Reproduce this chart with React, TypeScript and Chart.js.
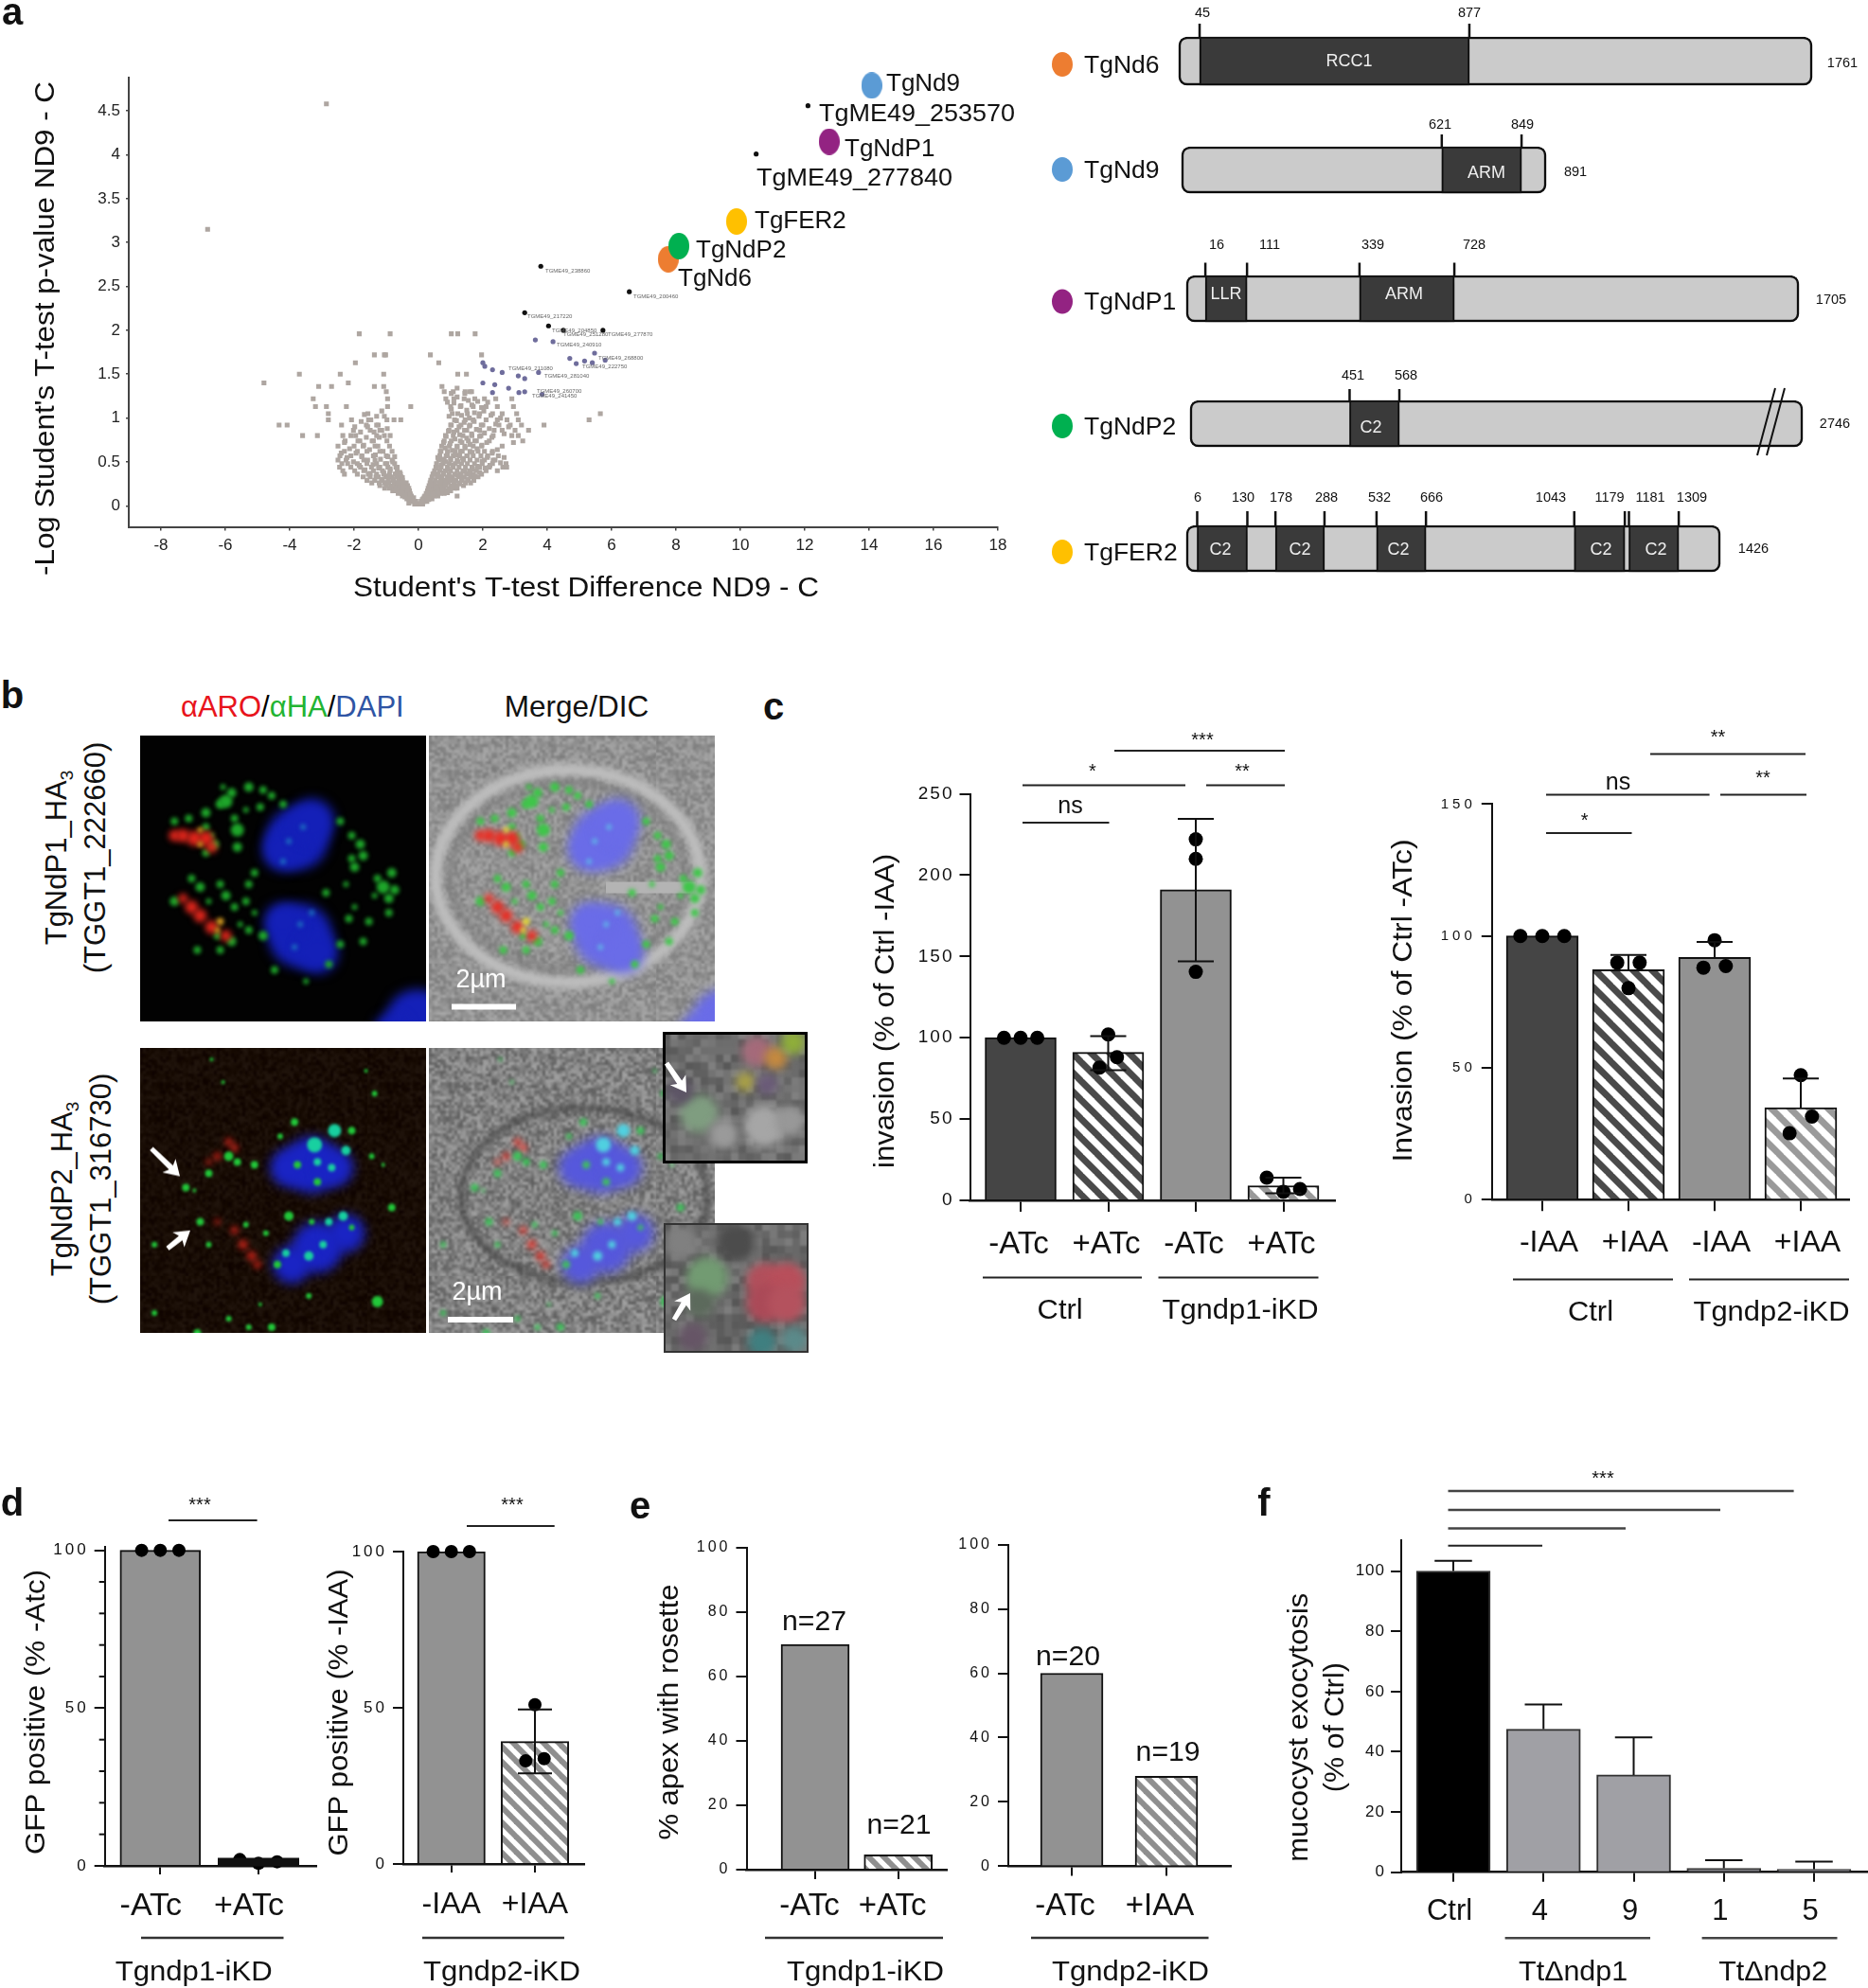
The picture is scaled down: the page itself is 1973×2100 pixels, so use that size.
import React, { useEffect, useRef } from 'react';
import { Chart, registerables } from 'chart.js';
Chart.register(...registerables);

const FONT = '"Liberation Sans", Arial, Helvetica, sans-serif';

/* ---------- panel a: volcano ---------- */
const greyRows: [number, number[]][] = [
  [0.02, [-0.12, -0.05, 0, 0.06, 0.13]],
  [0.05, [-0.24, -0.16, -0.08, 0.08, 0.17, 0.26]],
  [0.08, [-0.36, -0.27, -0.2, 0.15, 0.24, 0.33, 0.42]],
  [0.11, [-0.5, -0.41, -0.3, -0.22, 0.2, 0.29, 0.38, 0.48, 0.6, 1.2]],
  [0.14, [-0.63, -0.52, -0.43, -0.33, -0.26, 0.24, 0.33, 0.44, 0.55, 0.68, 0.8]],
  [0.17, [-0.8, -0.66, -0.55, -0.46, -0.34, -0.28, 0.28, 0.37, 0.5, 0.6, 0.72, 0.86, 1.0]],
  [0.2, [-1.05, -0.9, -0.76, -0.62, -0.5, -0.37, -0.3, 0.3, 0.41, 0.53, 0.66, 0.79, 0.94, 1.12, 1.2]],
  [0.23, [-1.2, -1.0, -0.85, -0.7, -0.58, -0.44, -0.34, 0.33, 0.46, 0.59, 0.72, 0.85, 1.02, 1.18, 1.4]],
  [0.26, [-1.45, -1.22, -1.05, -0.92, -0.75, -0.6, -0.47, -0.38, 0.36, 0.5, 0.64, 0.78, 0.93, 1.1, 1.27, 1.46, 1.62]],
  [0.29, [-1.6, -1.36, -1.12, -0.94, -0.8, -0.62, -0.5, 0.38, 0.52, 0.69, 0.84, 1.0, 1.16, 1.34, 1.55, 1.72]],
  [0.33, [-1.72, -1.5, -1.25, -1.02, -0.82, -0.66, -0.54, 0.42, 0.58, 0.73, 0.9, 1.06, 1.24, 1.42, 1.63, 1.85]],
  [0.36, [-2.3, -1.9, -1.56, -1.3, -1.08, -0.9, -0.7, -0.56, 0.45, 0.6, 0.78, 0.95, 1.12, 1.31, 1.5, 1.7, 1.96]],
  [0.4, [-2.35, -1.98, -1.7, -1.4, -1.12, -0.88, -0.66, 0.5, 0.66, 0.84, 1.0, 1.2, 1.38, 1.6, 1.8, 2.1, 2.45]],
  [0.44, [-2.45, -2.1, -1.8, -1.46, -1.2, -0.95, -0.7, 0.54, 0.7, 0.9, 1.08, 1.26, 1.46, 1.66, 1.9, 2.2, 2.62]],
  [0.48, [-2.38, -2.2, -1.9, -1.6, -1.3, -0.98, -0.74, 0.56, 0.76, 0.96, 1.14, 1.34, 1.52, 1.74, 1.98, 2.3, 2.72]],
  [0.52, [-2.5, -2.25, -1.7, -1.35, -0.82, 0.62, 0.8, 1.0, 1.2, 1.4, 1.6, 1.82, 2.05, 2.32]],
  [0.57, [-2.44, -2.1, -1.76, -1.4, -1.0, 0.66, 0.86, 1.08, 1.28, 1.5, 1.7, 1.94, 2.15, 2.48]],
  [0.62, [-2.3, -1.9, -1.6, -1.2, 0.7, 0.9, 1.14, 1.36, 1.6, 1.85, 2.05, 2.3]],
  [0.68, [-2.5, -2.0, -1.72, -1.35, 0.72, 0.96, 1.2, 1.44, 1.7, 1.96, 2.6]],
  [0.74, [-2.28, -1.82, -1.4, 0.8, 1.02, 1.3, 1.55, 1.8, 2.2, 3.24]],
  [0.8, [-2.35, -1.95, -1.3, -0.88, -3.6, -3.14, 0.84, 1.08, 1.38, 1.66, 1.94, 2.32, 2.9, 3.1]],
  [0.86, [-2.02, -1.5, -1.2, 0.95, 1.2, 1.5, 1.9, 2.35, 2.6, 3.0, 3.42]],
  [0.92, [-4.33, -4.08, -2.39, -1.62, -1.25, 1.0, 1.32, 1.6, 2.0, 2.5, 2.85, 3.2, 3.9]],
  [0.98, [-2.8, -2.08, -1.55, -0.98, -0.76, -0.55, 1.12, 1.45, 1.7, 2.1, 2.45, 2.75, 3.1, 5.3]],
  [1.05, [-2.8, -1.57, 1.05, 1.22, 1.52, 1.9, 2.3, 2.6, 3.05, 5.65]],
  [1.13, [-3.2, -2.86, -2.24, -0.96, -0.24, 1.0, 1.3, 1.7, 2.1, 2.45, 2.95]],
  [1.22, [-3.27, -0.96, 0.85, 1.1, 1.42, 1.75, 2.05, 2.4, 2.9]],
  [1.3, [-1.0, 0.8, 1.08, 1.45, 1.6]],
  [1.36, [-3.1, -2.7, -1.08, -1.37, 0.73]],
  [1.4, [-4.8, -2.18]],
  [1.5, [-3.7, -2.43, -1.08, 1.22, 1.49]],
  [1.63, [-1.96, 0.63]],
  [1.72, [-1.37, -1.06, -1.02, 0.37, 1.96]],
  [1.96, [-1.84, -0.88, 1.02, 1.22, 1.76]],
  [3.15, [-6.55]],
  [4.58, [-2.86]],
];
const greyExtra = [
  [0.31, 0.07], [0.44, 0.13], [0.52, 0.21], [0.61, 0.16], [0.38, 0.24], [0.67, 0.27], [0.74, 0.19], [0.83, 0.24], [0.9, 0.15], [0.97, 0.31], [1.06, 0.22], [1.13, 0.28], [1.21, 0.35], [1.28, 0.25], [1.36, 0.31], [1.45, 0.39], [1.52, 0.3], [1.6, 0.36], [1.68, 0.42], [1.75, 0.34], [1.83, 0.45], [1.9, 0.38], [1.98, 0.51], [2.07, 0.43], [2.14, 0.55], [2.22, 0.46], [2.29, 0.6], [2.38, 0.52], [2.45, 0.64], [2.55, 0.49], [2.66, 0.55], [2.74, 0.44],
  [0.48, 0.37], [0.56, 0.43], [0.63, 0.34], [0.7, 0.46], [0.78, 0.38], [0.85, 0.5], [0.92, 0.42], [1.0, 0.54], [1.07, 0.46], [1.15, 0.58], [1.22, 0.5], [1.3, 0.62], [1.37, 0.54], [1.45, 0.66], [1.52, 0.57], [1.6, 0.7], [1.67, 0.61], [1.75, 0.74], [1.82, 0.65], [1.9, 0.79], [1.97, 0.69], [2.05, 0.83], [2.12, 0.72], [2.2, 0.88], [2.28, 0.78], [2.4, 0.93],
  [0.6, 0.55], [0.68, 0.62], [0.75, 0.53], [0.83, 0.66], [0.9, 0.58], [0.98, 0.71], [1.05, 0.63], [1.13, 0.76], [1.2, 0.67], [1.28, 0.81], [1.35, 0.72], [1.43, 0.86], [1.5, 0.77], [1.58, 0.91], [1.65, 0.82], [1.73, 0.96], [1.8, 0.87], [1.88, 1.02], [1.95, 0.92], [2.03, 1.08],
  [0.78, 0.72], [0.86, 0.79], [0.93, 0.85], [1.02, 0.92], [1.1, 0.84], [1.18, 0.97], [1.26, 0.9], [1.34, 1.03], [1.42, 0.95], [1.5, 1.09], [1.58, 1.0], [1.66, 1.15], [1.74, 1.06], [1.84, 1.19], [1.96, 1.12], [2.15, 1.18], [2.25, 1.03], [2.55, 1.0], [2.66, 0.82], [2.8, 0.9], [2.95, 0.72],
  [0.95, 1.02], [1.02, 1.1], [1.1, 1.17], [1.2, 1.24], [1.32, 1.14], [1.44, 1.28], [1.55, 1.2], [1.65, 1.3], [1.2, 1.34], [1.02, 1.28], [0.9, 1.18],
  [0.1, 0.03], [0.18, 0.1], [0.26, 0.14], [0.12, 0.07], [-0.15, 0.09], [-0.3, 0.03], [-0.18, 0.06], [-0.26, 0.13], [-0.35, 0.18], [-0.42, 0.1], [-0.48, 0.22], [-0.56, 0.15], [-0.64, 0.26], [-0.7, 0.18], [-0.78, 0.3], [-0.85, 0.22], [-0.93, 0.34], [-1.0, 0.26], [-1.08, 0.38], [-1.15, 0.3], [-1.24, 0.43], [-1.32, 0.33], [-1.41, 0.47], [-1.5, 0.37], [-1.58, 0.52], [-1.66, 0.41], [-1.76, 0.56], [-1.84, 0.46], [-1.94, 0.6], [-2.02, 0.5], [-2.14, 0.65], [-2.22, 0.55], [-2.3, 0.72], [-2.4, 0.6],
  [-0.5, 0.32], [-0.58, 0.38], [-0.66, 0.44], [-0.72, 0.36], [-0.8, 0.5], [-0.88, 0.42], [-0.95, 0.56], [-1.03, 0.48], [-1.1, 0.62], [-1.18, 0.53], [-1.26, 0.68], [-1.34, 0.58], [-1.44, 0.74], [-1.52, 0.64], [-1.62, 0.78], [-1.7, 0.69], [-1.8, 0.84], [-1.88, 0.74], [-1.98, 0.9], [-2.1, 0.8],
  [-0.74, 0.56], [-0.82, 0.62], [-0.9, 0.68], [-0.98, 0.74], [-1.06, 0.8], [-1.14, 0.86], [-1.22, 0.78], [-1.3, 0.92], [-1.38, 0.84], [-1.48, 0.98], [-1.58, 0.9], [-1.68, 1.04], [-1.78, 0.96], [-1.06, 1.02], [-1.14, 1.08], [-1.3, 1.02], [-0.97, 0.88],
];
const bluePoints = [[3.63, 1.89], [4.18, 1.87], [4.7, 1.68], [5.16, 1.65], [5.47, 1.74], [2, 1.63], [2.06, 1.59], [2.6, 1.52], [2.3, 1.55], [3.73, 1.52], [3.1, 1.48], [3.3, 1.45], [2, 1.4], [2.37, 1.38], [2.3, 1.29], [3.12, 1.29], [3.84, 1.27], [2.8, 1.34], [3.3, 1.3], [5.4, 1.63], [5.8, 1.66], [4.9, 1.62]];
const blackPoints = [[12.1, 4.56], [10.49, 4.01], [3.8, 2.73], [6.55, 2.44], [3.3, 2.2], [4.04, 2.05], [5.73, 2.0], [4.5, 2.0]];
const highlightNames = ['TgNd6', 'TgNd9', 'TgNdP1', 'TgFER2', 'TgNdP2'];
const highlightX = [7.76, 14.08, 12.76, 9.88, 8.09];
const highlightY = [2.81, 4.79, 4.15, 3.24, 2.96];
const proteinColors = ['#ed7d31', '#5b9bd5', '#932382', '#ffc000', '#00b050'];
const volcanoXTicks = [-8, -6, -4, -2, 0, 2, 4, 6, 8, 10, 12, 14, 16, 18];
const volcanoYTicks = [0, 0.5, 1, 1.5, 2, 2.5, 3, 3.5, 4, 4.5];
const tinyGeneLabels = ['TGME49_238860', 'TGME49_200460', 'TGME49_217220', 'TGME49_204850', 'TGME49_251280', 'TGME49_277870', 'TGME49_240910', 'TGME49_268800', 'TGME49_222750', 'TGME49_211080', 'TGME49_281040', 'TGME49_260700', 'TGME49_241450'];

/* ---------- panel a: domain maps ---------- */
const proteinLengths = [1761, 891, 1705, 2746, 1426];
const nd6Domains = [[58, 808]];
const nd9Domains = [[636, 831]];
const ndp1Domains = [[53, 169], [482, 746]];
const ndp2Domains = [[715, 938]];
const fer2Domains = [[29, 163], [238, 369], [508, 640], [1036, 1171], [1182, 1315]];

/* ---------- panel c ---------- */
const c1Cats = ['-ATc', '+ATc', '-ATc', '+ATc'];
const c1Values = [100, 91, 191, 9];
const c1ErrLow = [null, 80, 147, 4.3];
const c1ErrHigh = [null, 101, 234.6, 13.9];
const c1DotX = [-0.19, 0, 0.19, 1, 1.1, 0.9, 2, 2, 2, 2.81, 3.19, 3];
const c1DotY = [100, 100, 100, 102, 88, 81.6, 222, 210, 140.5, 14, 7, 5.3];
const c2Cats = ['-IAA', '+IAA', '-IAA', '+IAA'];
const c2Values = [100, 87.2, 91.9, 34.9];
const c2ErrLow = [null, 87.2, 91.9, 34.9];
const c2ErrHigh = [null, 92.8, 97.7, 46];
const c2DotX = [-0.255, 0, 0.255, 0.87, 1.13, 1, 2, 1.87, 2.13, 3, 3.13, 2.87];
const c2DotY = [100, 100, 100, 89.9, 89.9, 80.2, 98.4, 88, 88.6, 47.2, 31.5, 25.2];

/* ---------- panel d ---------- */
const d1Cats = ['-ATc', '+ATc'];
const d1Values = [100, 1.2];
const d1ErrLow = [null, 0.6];
const d1ErrHigh = [null, 1.8];
const d1DotX = [-0.19, 0, 0.19, 0.81, 1, 1.19];
const d1DotY = [100, 100, 100, 2, 0.8, 1.3];
const d2Cats = ['-IAA', '+IAA'];
const d2Values = [100, 39.2];
const d2ErrLow = [null, 29];
const d2ErrHigh = [null, 49.5];
const d2DotX = [-0.217, 0, 0.217, 1, 0.89, 1.11];
const d2DotY = [100, 100, 100, 51, 33, 33.7];

/* ---------- panel e ---------- */
const e1Cats = ['-ATc', '+ATc'];
const e1Values = [70, 4.6];
const e2Cats = ['-ATc', '+IAA'];
const e2Values = [60, 28];

/* ---------- panel f ---------- */
const fCats = ['Ctrl', '4', '9', '1', '5'];
const fValues = [100, 47.5, 32.3, 1.3, 1.0];
const fErrLow = [100, 47.5, 32.3, 1.3, 1.0];
const fErrHigh = [103.4, 55.7, 44.8, 4, 3.5];

/* ---------- panel b: fluorescent spots, percent of panel, radius ---------- */
const topBlue = [[55, 36, 33], [50, 40, 22], [60, 30, 24], [56, 70, 34], [50, 65, 20], [62, 76, 22], [97, 100, 34], [88, 104, 20]];
const topTeal = [[52, 37, 3], [57, 32, 3], [50, 44, 3], [56, 66, 3], [60, 62, 3], [54, 74, 3]];
const topRed = [[12, 35, 6], [15, 35, 7], [19, 36, 8], [23, 36, 8], [25, 39, 6], [15, 57, 5], [18, 60, 7], [21, 63, 7], [25, 67, 7], [30, 70, 6]];
const topGreen = [[32, 20, 5], [28, 24, 5], [30, 23, 7], [38, 18, 5], [43, 19, 4], [23, 27, 5], [17, 29, 4], [33, 29, 4], [34, 33, 7], [12, 30, 4], [23, 32, 4], [26, 38, 5], [23, 41, 4], [34, 39, 5], [42, 25, 4], [50, 24, 4], [46, 21, 4], [70, 30, 4], [74, 35, 4], [77, 38, 5], [78, 42, 5], [74, 43, 4], [75, 46, 5], [83, 50, 4], [85, 53, 7], [88, 48, 5], [89, 54, 5], [87, 57, 5], [87, 62, 4], [80, 65, 4], [73, 64, 4], [78, 72, 4], [70, 73, 4], [65, 55, 4], [40, 48, 4], [38, 52, 4], [28, 52, 4], [18, 50, 4], [21, 53, 5], [33, 60, 4], [30, 56, 5], [37, 58, 4], [12, 58, 5], [27, 70, 4], [32, 72, 5], [38, 68, 4], [43, 70, 5], [28, 75, 4], [20, 75, 4], [47, 82, 4], [58, 86, 3], [66, 80, 4], [29, 18, 3], [37, 26, 3], [25, 35, 3], [72, 52, 3], [82, 56, 3], [75, 60, 3], [35, 66, 3], [24, 58, 3], [40, 62, 3]];
const topYellow = [[21, 33, 3], [21, 38, 3], [28, 65, 4], [27, 68, 3]];
const lowBlue = [[60, 41, 30], [52, 42, 20], [68, 42, 20], [62, 70, 27], [53, 76, 20], [72, 65, 20]];
const lowTeal = [[61, 34, 8], [68, 29, 7], [72, 36, 5], [67, 42, 4], [62, 40, 4], [59, 73, 5], [64, 69, 4], [51, 72, 4], [66, 61, 4], [71, 59, 5]];
const lowRed = [[33, 35, 4], [27, 38, 4], [24, 40, 3], [31, 33, 4], [27, 61, 3], [33, 64, 4], [36, 69, 5], [39, 73, 5], [41, 76, 4]];
const lowGreen = [[54, 26, 4], [74, 29, 4], [49, 31, 3], [62, 47, 4], [55, 41, 4], [31, 38, 5], [34, 40, 4], [40, 41, 4], [24, 44, 4], [16, 49, 4], [19, 50, 2], [21, 61, 4], [24, 69, 3], [5, 69, 3], [52, 59, 5], [60, 61, 3], [74, 63, 3], [88, 56, 4], [81, 38, 3], [85, 41, 2], [82, 16, 3], [79, 8, 2], [48, 76, 4], [37, 62, 3], [44, 65, 3], [59, 87, 3], [83, 89, 6], [31, 95, 3], [46, 98, 4], [5, 93, 3], [25, 4, 2], [29, 12, 2], [42, 90, 2], [20, 100, 4], [38, 98, 3]];
const inset1Spots = [[65, 15, 16, '#a56a7a'], [78, 20, 12, '#c58a40'], [90, 8, 13, '#8fae3a'], [57, 38, 10, '#a9a045'], [72, 40, 11, '#6a5a78'], [25, 62, 20, '#7f9d80'], [42, 78, 16, '#9a9a9a'], [70, 72, 22, '#a6a6a6'], [12, 45, 14, '#5d5566'], [88, 68, 16, '#989898']];
const inset2Spots = [[70, 45, 20, '#b2505c'], [85, 45, 20, '#b84f5b'], [70, 62, 20, '#ab4a58'], [85, 62, 20, '#b4525e'], [30, 42, 22, '#729b72'], [25, 62, 15, '#5c6a5c'], [20, 88, 15, '#665566'], [68, 92, 15, '#3f7f80'], [50, 15, 20, '#4c4c4c'], [90, 90, 14, '#5b8a8a'], [12, 15, 18, '#808080']];

/* ---------- drawing helpers ---------- */
type Note = any;
const T = (text: string, x: number, y: number, size: number, o: any = {}): Note => ({ k: 't', text, x, y, size, ...o });
const L = (x1: number, y1: number, x2: number, y2: number, lw = 2, color = '#222'): Note => ({ k: 'l', x1, y1, x2, y2, lw, color });
const E = (x: number, y: number, rx: number, ry: number, color: string): Note => ({ k: 'e', x, y, rx, ry, color });
const A = (x1: number, y1: number, x2: number, y2: number): Note => ({ k: 'a', x1, y1, x2, y2 });
const R = (x: number, y: number, w: number, h: number, lw: number, color: string): Note => ({ k: 'r', x, y, w, h, lw, color });
const ring = (x: number, y: number, rx: number, ry: number, lw: number, color: string): Note => ({ k: 'ring', x, y, rx, ry, lw, color });

function drawNotes(ctx: CanvasRenderingContext2D, notes: Note[], box: any) {
  ctx.save();
  ctx.translate(-box.l, -box.t);
  for (const n of notes) {
    ctx.save();
    if (n.k === 't') {
      ctx.translate(n.x + (n.rot ? 1.5 : 0), n.y + (n.rot ? 0 : 1.5));
      if (n.rot) ctx.rotate((n.rot * Math.PI) / 180);
      ctx.font = `${n.bold ? 'bold ' : ''}${n.size}px ${FONT}`;
      ctx.textBaseline = 'middle';
      ctx.textAlign = n.align || 'center';
      ctx.fillStyle = n.color || '#111';
      if (n.w) ctx.scale(n.w / ctx.measureText(n.text).width, 1);
      ctx.fillText(n.text, 0, 0);
    } else if (n.k === 'l') {
      ctx.strokeStyle = n.color;
      ctx.lineWidth = n.lw;
      ctx.beginPath();
      ctx.moveTo(n.x1, n.y1);
      ctx.lineTo(n.x2, n.y2);
      ctx.stroke();
    } else if (n.k === 'e') {
      ctx.fillStyle = n.color;
      ctx.beginPath();
      ctx.ellipse(n.x, n.y, n.rx, n.ry, 0, 0, Math.PI * 2);
      ctx.fill();
    } else if (n.k === 'ring') {
      ctx.strokeStyle = n.color;
      ctx.lineWidth = n.lw;
      ctx.filter = 'blur(3px)';
      ctx.beginPath();
      ctx.ellipse(n.x, n.y, n.rx, n.ry, 0, 0, Math.PI * 2);
      ctx.stroke();
    } else if (n.k === 'r') {
      ctx.strokeStyle = n.color;
      ctx.lineWidth = n.lw;
      ctx.strokeRect(n.x, n.y, n.w, n.h);
    } else if (n.k === 'a') {
      const ang = Math.atan2(n.y2 - n.y1, n.x2 - n.x1);
      ctx.translate(n.x2, n.y2);
      ctx.rotate(ang);
      const len = Math.hypot(n.x2 - n.x1, n.y2 - n.y1);
      ctx.fillStyle = '#fff';
      ctx.beginPath();
      ctx.moveTo(0, 0);
      ctx.lineTo(-16, -10);
      ctx.lineTo(-13, -3);
      ctx.lineTo(-len, -2.5);
      ctx.lineTo(-len, 2.5);
      ctx.lineTo(-13, 3);
      ctx.lineTo(-16, 10);
      ctx.closePath();
      ctx.fill();
    }
    ctx.restore();
  }
  ctx.restore();
}

function hatch(color: string, p: number, lw: number) {
  const c = document.createElement('canvas');
  c.width = p;
  c.height = p;
  const x = c.getContext('2d')!;
  x.fillStyle = '#fff';
  x.fillRect(0, 0, p, p);
  x.strokeStyle = color;
  x.lineWidth = lw;
  for (const o of [-p, 0, p]) {
    x.beginPath();
    x.moveTo(o - 2, -2);
    x.lineTo(o + p + 2, p + 2);
    x.stroke();
  }
  return x.createPattern(c, 'repeat')!;
}

function noise(base: number[], amp: number, cell: number) {
  const size = 240;
  const c = document.createElement('canvas');
  c.width = size;
  c.height = size;
  const x = c.getContext('2d')!;
  for (let i = 0; i < size / cell; i++) {
    for (let j = 0; j < size / cell; j++) {
      const h = Math.sin(i * 12.9898 + j * 78.233) * 43758.5453;
      const v = (h - Math.floor(h) - 0.5) * amp;
      x.fillStyle = `rgb(${base[0] + v},${base[1] + v},${base[2] + v})`;
      x.fillRect(i * cell, j * cell, cell, cell);
    }
  }
  const d = document.createElement('canvas');
  d.width = size;
  d.height = size;
  const y = d.getContext('2d')!;
  y.fillStyle = `rgb(${base[0]},${base[1]},${base[2]})`;
  y.fillRect(0, 0, size, size);
  y.filter = 'blur(1px)';
  y.drawImage(c, 0, 0);
  return { canvas: d };
}

function ellipseStyle(color: string, rx: number, ry: number) {
  const c = document.createElement('canvas');
  c.width = rx * 2;
  c.height = ry * 2;
  const x = c.getContext('2d')!;
  x.fillStyle = color;
  x.beginPath();
  x.ellipse(rx, ry, rx, ry, 0, 0, Math.PI * 2);
  x.fill();
  return c;
}

const baseOptions = (box: any): any => ({
  responsive: false,
  animation: false,
  devicePixelRatio: 1,
  events: [],
  plugins: { legend: { display: false }, tooltip: { enabled: false }, title: { display: false } },
});

function fixedAxes(box: any, area: any) {
  return {
    layout: { autoPadding: false, padding: { left: 0, bottom: 0, top: area.t - box.t, right: box.r - area.r } },
    xFit: (s: any) => { s.height = box.b - area.b; },
    yFit: (s: any) => { s.width = area.l - box.l; },
  };
}

/* ---------- bar panels ---------- */
function barConfig(s: any): any {
  const { box, area } = s;
  const fit = fixedAxes(box, area);
  const fills = s.fills.map((f: any) => (Array.isArray(f) ? hatch(f[0], f[1], f[2]) : f));
  const datasets: any[] = [{
    type: 'bar',
    data: s.values.map((v: number, i: number) => ({ x: i, y: v })),
    backgroundColor: fills,
    borderColor: s.borders,
    borderWidth: s.borderW ?? 2,
    barThickness: s.barW,
    order: 2,
  }];
  if (s.dotX) {
    datasets.push({
      type: 'scatter',
      data: s.dotX.map((x: number, i: number) => ({ x, y: s.dotY[i] })),
      backgroundColor: '#000',
      borderWidth: 0,
      pointRadius: s.dotR ?? 7.5,
      order: 1,
      clip: false,
    });
  }
  const opts = baseOptions(box);
  opts.layout = fit.layout;
  opts.scales = {
    x: {
      type: 'linear',
      min: (area.l - s.t0) / s.dx,
      max: (area.r - s.t0) / s.dx,
      offset: false,
      afterBuildTicks: (a: any) => { a.ticks = s.cats.map((_: string, i: number) => ({ value: i })); },
      afterFit: fit.xFit,
      grid: { offset: false, drawOnChartArea: false, color: '#111', lineWidth: 2, tickLength: s.xTick ?? 11 },
      border: { color: '#111', width: 2.5 },
      ticks: {
        autoSkip: false, maxRotation: 0, minRotation: 0, color: '#111',
        font: { family: FONT, size: s.xFont ?? 32 }, padding: s.xPad ?? 14, labelOffset: s.labelOffset ?? 0,
        callback: (v: number) => s.cats[v],
      },
    },
    y: {
      type: 'linear',
      min: 0,
      max: s.yMax,
      afterBuildTicks: (a: any) => { a.ticks = s.yTicks.map((v: number) => ({ value: v })); },
      afterFit: fit.yFit,
      grid: { drawOnChartArea: false, color: '#111', lineWidth: 2, tickLength: s.yTick ?? 11 },
      border: { color: '#111', width: 2 },
      ticks: {
        autoSkip: false, color: '#111', padding: s.yPad ?? 6,
        font: { family: FONT, size: s.yFont ?? 17 },
        callback: (v: number) => String(v),
      },
    },
  };
  const plugin = {
    id: 'notes',
    beforeDraw(chart: any) {
      const y = chart.scales.y;
      const ctx = chart.ctx;
      if (!y._spaced) {
        const orig = y.drawLabels;
        y.drawLabels = function (a: any) {
          ctx.letterSpacing = `${s.yLetter ?? 2}px`;
          orig.call(this, a);
          ctx.letterSpacing = '0px';
        };
        y._spaced = true;
      }
    },
    afterDatasetsDraw(chart: any) {
      const { ctx, scales: { x, y } } = chart;
      ctx.save();
      ctx.strokeStyle = '#111';
      ctx.lineWidth = s.errW ?? 2;
      (s.errHigh || []).forEach((h: number | null, i: number) => {
        if (h == null) return;
        const px = x.getPixelForValue(i);
        const ph = y.getPixelForValue(h);
        const pl = y.getPixelForValue(s.errLow[i]);
        const c = (s.capW ?? 38) / 2;
        ctx.beginPath();
        ctx.moveTo(px, pl);
        ctx.lineTo(px, ph);
        ctx.moveTo(px - c, ph);
        ctx.lineTo(px + c, ph);
        if (s.errLow[i] !== s.values[i]) {
          ctx.moveTo(px - c, pl);
          ctx.lineTo(px + c, pl);
        }
        ctx.stroke();
      });
      ctx.lineWidth = 2;
      (s.minor || []).forEach((v: number) => {
        const py = y.getPixelForValue(v);
        ctx.beginPath();
        ctx.moveTo(area.l, py);
        ctx.lineTo(area.l - (s.minorLen ?? 6), py);
        ctx.stroke();
      });
      ctx.restore();
    },
    afterDraw(chart: any) { drawNotes(chart.ctx, s.notes, box); },
  };
  return { type: 'bar', data: { datasets }, options: opts, plugins: [plugin] };
}

/* ---------- volcano ---------- */
function volcanoConfig(): any {
  const box = { l: 0, t: 0, r: 1090, b: 660 };
  const area = { l: 136, r: 1054, t: 82, b: 556.5 };
  const fit = fixedAxes(box, area);
  const grey = [...greyRows.flatMap(([y, xs]) => xs.map((x) => ({ x, y }))), ...greyExtra.map(([x, y]) => ({ x, y }))];
  const styles = proteinColors.map((c) => ellipseStyle(c, 11, 14));
  const datasets: any[] = [
    { data: grey, pointStyle: 'rect', pointRadius: 3.6, backgroundColor: '#aea6a1', borderWidth: 0, order: 5 },
    { data: bluePoints.map(([x, y]) => ({ x, y })), pointRadius: 2.6, backgroundColor: '#6f6d9c', borderWidth: 0, order: 4 },
    { data: blackPoints.map(([x, y]) => ({ x, y })), pointRadius: 2.6, backgroundColor: '#111', borderWidth: 0, order: 3 },
    { data: highlightNames.map((_, i) => ({ x: highlightX[i], y: highlightY[i] })), pointStyle: styles, pointRadius: 11, order: 1, clip: false },
  ];
  const tinyPos = [[576, 285], [669, 312], [557, 333], [583, 348], [595, 352], [642, 352], [588, 363], [632, 377], [615, 386], [537, 388], [575, 396], [567, 412], [562, 417]];
  const notes: Note[] = [
    T('TgNd9', 936, 87, 26, { align: 'left' }),
    T('TgME49_253570', 865, 119, 26.5, { align: 'left', w: 207 }),
    T('TgNdP1', 892, 156, 26, { align: 'left' }),
    T('TgME49_277840', 799, 187, 26.5, { align: 'left', w: 207 }),
    T('TgFER2', 797, 232, 26, { align: 'left' }),
    T('TgNdP2', 735, 263, 26, { align: 'left' }),
    T('TgNd6', 716, 293, 26, { align: 'left' }),
    T("Student's T-test Difference ND9 - C", 619, 620, 29.5, { w: 492 }),
    T("-Log Student's T-test p-value ND9 - C", 47, 347, 29.5, { rot: -90, w: 522 }),
    ...tinyGeneLabels.map((t, i) => T(t, tinyPos[i][0], tinyPos[i][1], 6, { align: 'left', color: '#666' })),
  ];
  const opts = baseOptions(box);
  opts.layout = fit.layout;
  opts.scales = {
    x: {
      type: 'linear', min: -9, max: 18,
      afterBuildTicks: (a: any) => { a.ticks = volcanoXTicks.map((v) => ({ value: v })); },
      afterFit: fit.xFit,
      grid: { drawOnChartArea: false, color: '#444', lineWidth: 1.5, tickLength: 4 },
      border: { color: '#444', width: 2 },
      ticks: { autoSkip: false, maxRotation: 0, color: '#222', font: { family: FONT, size: 17 }, padding: 6, callback: (v: number) => String(v) },
    },
    y: {
      type: 'linear', min: -0.24, max: 4.88,
      afterBuildTicks: (a: any) => { a.ticks = volcanoYTicks.map((v) => ({ value: v })); },
      afterFit: fit.yFit,
      grid: { drawOnChartArea: false, color: '#444', lineWidth: 1.5, tickLength: 3 },
      border: { color: '#444', width: 2 },
      ticks: { autoSkip: false, color: '#222', font: { family: FONT, size: 17 }, padding: 6, callback: (v: number) => String(v) },
    },
  };
  const plugin = { id: 'notes', afterDraw(chart: any) { drawNotes(chart.ctx, notes, box); } };
  return { type: 'scatter', data: { datasets }, options: opts, plugins: [plugin] };
}

/* ---------- domain maps ---------- */
function proteinConfig(p: any): any {
  const box = { l: 1100, t: p.area.t - 48, r: 1973, b: p.area.b + 22 };
  const { area } = p;
  const gray: any = {
    data: [[0, p.length]], backgroundColor: '#cbcbcb', borderColor: '#111', borderWidth: 2.5, borderRadius: 9,
    borderSkipped: false, grouped: false, barPercentage: 1, categoryPercentage: 1, order: 2, clip: false,
  };
  const doms = p.domains.map((d: number[]) => ({
    data: [d], backgroundColor: '#3a3a3a', borderColor: '#111', borderWidth: 2, borderSkipped: false,
    grouped: false, barPercentage: 1, categoryPercentage: 1, order: 1, clip: false,
  }));
  const opts = baseOptions(box);
  opts.indexAxis = 'y';
  opts.layout = { autoPadding: false, padding: { left: area.l - box.l, right: box.r - area.r, top: area.t - box.t, bottom: box.b - area.b } };
  opts.scales = {
    x: { type: 'linear', display: false, min: 0, max: p.length },
    y: { type: 'category', display: false },
  };
  const plugin = {
    id: 'notes',
    beforeDatasetDraw(chart: any) {
      const c = chart.ctx;
      c.save();
      c.shadowColor = 'rgba(0,0,0,0.4)';
      c.shadowBlur = 7;
      c.shadowOffsetY = 5;
    },
    afterDatasetDraw(chart: any) { chart.ctx.restore(); },
    afterDraw(chart: any) {
      const c = chart.ctx;
      const x = chart.scales.x;
      c.save();
      c.strokeStyle = '#111';
      c.lineWidth = 2.5;
      p.domains.forEach((d: number[]) => d.forEach((v) => {
        const px = x.getPixelForValue(v);
        c.beginPath();
        c.moveTo(px, area.t - box.t + 1);
        c.lineTo(px, p.tickTop - box.t);
        c.stroke();
      }));
      c.restore();
      drawNotes(c, p.notes, box);
    },
  };
  return {
    type: 'bar',
    data: { labels: [p.name], datasets: [gray, ...doms] },
    options: opts,
    plugins: [plugin],
  };
}

const small = 14.5;
const marker = (i: number, y: number) => [E(1122, y, 11, 13, proteinColors[i]), T(highlightNames[i], 1145, y, 26.5, { align: 'left' })];
const proteinSpecs = () => [
  {
    name: 'TgNd6', length: proteinLengths[0], domains: nd6Domains, tickTop: 25,
    area: { l: 1245, r: 1914, t: 39, b: 90 },
    notes: [...marker(0, 68), T('45', 1270, 12, small), T('877', 1552, 12, small), T('1761', 1946, 65, small), T('RCC1', 1425, 64, 18, { color: '#eee' })],
  },
  {
    name: 'TgNd9', length: proteinLengths[1], domains: nd9Domains, tickTop: 142,
    area: { l: 1248, r: 1633, t: 155, b: 204 },
    notes: [...marker(1, 179), T('621', 1521, 130, small), T('849', 1608, 130, small), T('891', 1664, 180, small), T('ARM', 1570, 182, 18, { color: '#eee' })],
  },
  {
    name: 'TgNdP1', length: proteinLengths[2], domains: ndp1Domains, tickTop: 277,
    area: { l: 1253, r: 1900, t: 290.5, b: 339.5 },
    notes: [...marker(2, 318), T('16', 1285, 257, small), T('111', 1341, 257, small), T('339', 1450, 257, small), T('728', 1557, 257, small), T('1705', 1934, 315, small), T('LLR', 1295, 309, 18, { color: '#eee' }), T('ARM', 1483, 309, 18, { color: '#eee' })],
  },
  {
    name: 'TgNdP2', length: proteinLengths[3], domains: ndp2Domains, tickTop: 411,
    area: { l: 1257, r: 1904, t: 423, b: 472 },
    notes: [...marker(4, 450), T('451', 1429, 395, small), T('568', 1485, 395, small), T('2746', 1938, 446, small), T('C2', 1448, 451, 18, { color: '#eee' }), L(1875, 410, 1856, 481, 2, '#111'), L(1885, 410, 1866, 481, 2, '#111')],
  },
  {
    name: 'TgFER2', length: proteinLengths[4], domains: fer2Domains, tickTop: 540,
    area: { l: 1253, r: 1817, t: 555, b: 604 },
    notes: [...marker(3, 583), T('6', 1265, 524, small), T('130', 1313, 524, small), T('178', 1353, 524, small), T('288', 1401, 524, small), T('532', 1457, 524, small), T('666', 1512, 524, small), T('1043', 1638, 524, small), T('1179', 1700, 524, small), T('1181', 1743, 524, small), T('1309', 1787, 524, small), T('1426', 1852, 578, small),
      T('C2', 1289, 580, 18, { color: '#eee' }), T('C2', 1373, 580, 18, { color: '#eee' }), T('C2', 1477, 580, 18, { color: '#eee' }), T('C2', 1691, 580, 18, { color: '#eee' }), T('C2', 1749, 580, 18, { color: '#eee' })],
  },
];

/* ---------- micrographs ---------- */
function micrographConfig(m: any): any {
  const box = { l: m.l, t: m.t, r: m.l + m.w, b: m.t + m.h };
  const toPts = (a: any[]) => a.map((p) => ({ x: p[0], y: p[1], r: p[2] }));
  const n = m.layers.length;
  const datasets = m.layers.map((l: any, i: number) => ({
    data: toPts(l.pts),
    backgroundColor: l.color ?? l.pts.map((p: any[]) => p[3]),
    borderWidth: 0,
    order: n - i,
  }));
  const opts = baseOptions(box);
  opts.layout = { autoPadding: false };
  opts.scales = {
    x: { type: 'linear', display: false, min: m.xMin ?? 0, max: (m.xMin ?? 0) + 100 },
    y: { type: 'linear', display: false, min: 0, max: 100, reverse: true },
  };
  const plugin = {
    id: 'notes',
    beforeDraw(chart: any) {
      const c = chart.ctx;
      c.save();
      if (m.noise) c.fillStyle = c.createPattern(noise(m.noise[0], m.noise[1], m.noise[2]).canvas, 'repeat');
      else c.fillStyle = m.bg;
      c.fillRect(0, 0, m.w, m.h);
      c.restore();
      if (m.under) drawNotes(c, m.under, box);
    },
    beforeDatasetDraw(chart: any, args: any) {
      const c = chart.ctx;
      c.save();
      c.filter = `blur(${m.layers[args.index].blur ?? 2}px)`;
    },
    afterDatasetDraw(chart: any) { chart.ctx.restore(); },
    afterDraw(chart: any) { if (m.notes) drawNotes(chart.ctx, m.notes, box); },
  };
  return { type: 'bubble', data: { datasets }, options: opts, plugins: [plugin] };
}

const micrographs = [
  {
    l: 148, t: 777, w: 302, h: 301.5, bg: '#020202',
    layers: [
      { pts: topBlue, color: '#1420b8', blur: 6 },
      { pts: topTeal, color: '#1c70c0', blur: 2 },
      { pts: topGreen, color: '#1ea52a', blur: 2 },
      { pts: topRed, color: '#e0261c', blur: 3 },
      { pts: topYellow, color: '#d09a22', blur: 2 },
    ],
  },
  {
    l: 453, t: 777, w: 302, h: 301.5, noise: [[146, 146, 146], 46, 3], xMin: -6,
    under: [ring(600, 925, 140, 112, 13, '#bdbdbd'), ring(600, 925, 124, 98, 4, '#7d7d7d'), L(640, 937, 735, 937, 12, '#b4b4b4')],
    layers: [
      { pts: topBlue, color: '#6a6ce8', blur: 6 },
      { pts: topTeal, color: '#60b0e8', blur: 2 },
      { pts: topGreen, color: '#3fc64a', blur: 2 },
      { pts: topRed, color: '#ea2f25', blur: 3 },
      { pts: topYellow, color: '#e2d53a', blur: 2 },
    ],
    notes: [T('2µm', 508, 1033, 27, { color: '#fff' }), L(477, 1062.5, 545, 1062.5, 6, '#fff')],
  },
  {
    l: 148, t: 1107, w: 302, h: 300.5, noise: [[24, 12, 4], 20, 3],
    layers: [
      { pts: lowBlue, color: '#1a24c4', blur: 6 },
      { pts: lowRed, color: '#c8241a', blur: 3 },
      { pts: lowTeal, color: '#18d0a0', blur: 1.5 },
      { pts: lowGreen, color: '#22c83a', blur: 1.5 },
    ],
    notes: [A(160, 1213, 190, 1242), A(177, 1318, 201, 1299)],
  },
  {
    l: 453, t: 1107, w: 302, h: 300.5, noise: [[128, 128, 128], 70, 3],
    under: [ring(617, 1262, 130, 92, 5, '#454545')],
    layers: [
      { pts: lowBlue, color: '#5658dc', blur: 6 },
      { pts: lowRed, color: '#dc3a32', blur: 3 },
      { pts: lowTeal, color: '#50d0e0', blur: 2 },
      { pts: lowGreen, color: '#3ec25a', blur: 2 },
    ],
    notes: [T('2µm', 504, 1363, 27, { color: '#fff' }), L(473, 1393, 542, 1393, 6, '#fff')],
  },
  {
    l: 700, t: 1090, w: 153, h: 139, noise: [[108, 108, 108], 40, 8],
    layers: [{ pts: inset1Spots, blur: 5 }],
    notes: [R(701.5, 1091.5, 150, 136, 3, '#000'), A(704, 1123, 725, 1154)],
  },
  {
    l: 701, t: 1292, w: 153, h: 137, noise: [[106, 106, 106], 40, 8],
    layers: [{ pts: inset2Spots, blur: 5 }],
    notes: [R(702, 1293, 151, 135, 2, '#333'), A(712, 1394, 729, 1366)],
  },
];

/* ---------- bar panel layouts ---------- */
const DARK = '#454545';
const MID = '#929292';
const barSpecs = () => [
  {
    box: { l: 900, t: 760, r: 1435, b: 1410 }, area: { l: 1024.5, r: 1409.6, t: 838.5, b: 1268 }, t0: 1078, dx: 92.5,
    cats: c1Cats, values: c1Values, errLow: c1ErrLow, errHigh: c1ErrHigh, dotX: c1DotX, dotY: c1DotY, barW: 75, yMax: 250,
    yTicks: [0, 50, 100, 150, 200, 250], xTick: 12, yFont: 19, yLetter: 2, xPad: 15, xFont: 33, labelOffset: -2,
    fills: [DARK, ['#4a4a4a', 20, 7], MID, ['#9a9a9a', 20, 7]], borders: '#111',
    notes: [
      T('invasion (% of Ctrl -IAA)', 934, 1068, 29, { rot: -90, w: 332 }),
      L(1177, 793, 1357, 793), T('***', 1270, 781, 20),
      L(1080, 829.4, 1252, 829.4), T('*', 1154, 814, 20),
      L(1274, 829.4, 1357, 829.4), T('**', 1312, 814, 20),
      L(1080, 869, 1171.5, 869), T('ns', 1130.5, 851, 25),
      L(1038, 1349.4, 1206, 1349.4), L(1223.5, 1349.4, 1392.5, 1349.4),
      T('Ctrl', 1119.6, 1383.6, 29, { w: 48 }), T('Tgndp1-iKD', 1310, 1383.6, 29, { w: 165 }),
    ],
  },
  {
    box: { l: 1440, t: 760, r: 1973, b: 1410 }, area: { l: 1575.8, r: 1953, t: 849.4, b: 1267.3 }, t0: 1629, dx: 91,
    cats: c2Cats, values: c2Values, errLow: c2ErrLow, errHigh: c2ErrHigh, dotX: c2DotX, dotY: c2DotY, barW: 76, yMax: 150,
    yTicks: [0, 50, 100, 150], xTick: 12, yFont: 15, yLetter: 4, xPad: 15, labelOffset: 7,
    fills: [DARK, ['#4a4a4a', 20, 7], MID, ['#9a9a9a', 20, 7]], borders: '#111',
    notes: [
      T('Invasion (% of Ctrl -ATc)', 1481, 1057, 29, { rot: -90, w: 341 }),
      L(1743, 796.4, 1907, 796.4), T('**', 1814.5, 778, 20),
      L(1633, 839.4, 1805.6, 839.4), T('ns', 1709, 826, 25),
      L(1817, 839.4, 1908, 839.4), T('**', 1862, 821, 20),
      L(1633, 880, 1723.5, 880), T('*', 1673.6, 866, 20),
      L(1598, 1351.5, 1767, 1351.5), L(1784, 1351.5, 1953, 1351.5),
      T('Ctrl', 1680, 1385, 29, { w: 48 }), T('Tgndp2-iKD', 1871, 1385, 29, { w: 165 }),
    ],
  },
  {
    box: { l: 0, t: 1570, r: 345, b: 2100 }, area: { l: 110.7, r: 334, t: 1634, b: 1971 }, t0: 169.3, dx: 103.7,
    cats: d1Cats, values: d1Values, errLow: d1ErrLow, errHigh: d1ErrHigh, dotX: d1DotX, dotY: d1DotY, barW: 85, yMax: 101.1, errW: 5,
    yTicks: [0, 50, 100], minor: [10, 20, 30, 40, 60, 70, 80, 90], xTick: 9, yFont: 17, yLetter: 3, xPad: 13, xFont: 34, capW: 86, labelOffset: -10,
    fills: [MID, '#ffffff'], borders: ['#111', '#2ca02c'], dotR: 7,
    notes: [
      T('GFP positive (% -Atc)', 37.4, 1808.5, 29, { rot: -90, w: 301 }),
      L(178, 1606, 271.6, 1606), T('***', 211, 1589, 20),
      L(149, 2047, 299.5, 2047, 2.5, '#333'),
      T('Tgndp1-iKD', 204.7, 2082, 29, { w: 166 }),
    ],
  },
  {
    box: { l: 335, t: 1570, r: 640, b: 2100 }, area: { l: 426, r: 616.5, t: 1639, b: 1969 }, t0: 476.7, dx: 88.3,
    cats: d2Cats, values: d2Values, errLow: d2ErrLow, errHigh: d2ErrHigh, dotX: d2DotX, dotY: d2DotY, barW: 71.5, yMax: 100,
    yTicks: [0, 50, 100], minor: [10, 20, 30, 40, 60, 70, 80, 90], xTick: 9, yFont: 17, yLetter: 3, xPad: 15, capW: 36, dotR: 7,
    fills: [MID, ['#8f8f8f', 16, 6]], borders: '#111',
    notes: [
      T('GFP positive (% -IAA)', 357, 1809, 29, { rot: -90, w: 303 }),
      L(493, 1612, 585.7, 1612), T('***', 541, 1589, 20),
      L(446, 2047, 596, 2047, 2.5, '#333'),
      T('Tgndp2-iKD', 530, 2082, 29, { w: 166 }),
    ],
  },
  {
    box: { l: 670, t: 1570, r: 1015, b: 2100 }, area: { l: 788.5, r: 1000, t: 1635, b: 1975 }, t0: 861, dx: 87.7,
    cats: e1Cats, values: e1Values, barW: 72, yMax: 100, yTicks: [0, 20, 40, 60, 80, 100], xTick: 10, yFont: 16, yLetter: 3, xPad: 9, xFont: 33, labelOffset: -6,
    fills: [MID, ['#8f8f8f', 16, 6]], borders: '#111',
    notes: [
      T('% apex with rosette', 706, 1808.5, 29, { rot: -90, w: 270 }),
      T('n=27', 860, 1712.4, 29, { w: 68 }), T('n=21', 949.5, 1927, 29, { w: 68 }),
      L(808, 2047, 996, 2047, 2.5, '#333'),
      T('Tgndp1-iKD', 914, 2082, 29, { w: 166 }),
    ],
  },
  {
    box: { l: 1000, t: 1570, r: 1320, b: 2100 }, area: { l: 1065, r: 1300, t: 1631.6, b: 1971.4 }, t0: 1132, dx: 100,
    cats: e2Cats, values: e2Values, barW: 66, yMax: 100, yTicks: [0, 20, 40, 60, 80, 100], xTick: 10, yFont: 16, yLetter: 3, xPad: 13, xFont: 33, labelOffset: -7,
    fills: [MID, ['#8f8f8f', 16, 6]], borders: '#111',
    notes: [
      T('n=20', 1128, 1749, 29, { w: 68 }), T('n=19', 1233.6, 1850.7, 29, { w: 68 }),
      L(1089, 2047, 1276.5, 2047, 2.5, '#333'),
      T('Tgndp2-iKD', 1194, 2082, 29, { w: 166 }),
    ],
  },
  {
    box: { l: 1335, t: 1540, r: 1973, b: 2100 }, area: { l: 1480, r: 1971.8, t: 1626.8, b: 1977.7 }, t0: 1535, dx: 95.25,
    cats: fCats, values: fValues, errLow: fErrLow, errHigh: fErrHigh, barW: 78, yMax: 110.3, capW: 39.5,
    yTicks: [0, 20, 40, 60, 80, 100], minor: [10, 30, 50, 70, 90, 110], xTick: 10, yFont: 17, yLetter: 1, xPad: 13, xFont: 31, labelOffset: -4,
    fills: ['#000', '#a0a0a5', '#a0a0a5', '#77777c', '#77777c'], borders: '#333',
    notes: [
      T('mucocyst exocytosis', 1371, 1824.7, 29, { rot: -90, w: 284 }),
      T('(% of Ctrl)', 1409, 1824.7, 29, { rot: -90, w: 137 }),
      L(1529.5, 1575, 1894.6, 1575, 2.5, '#444'), L(1529.5, 1595, 1817, 1595, 2.5, '#444'),
      L(1529.5, 1614.6, 1717, 1614.6, 2.5, '#444'), L(1529.5, 1632.8, 1629, 1632.8, 2, '#222'),
      T('***', 1693, 1561, 20),
      L(1589.6, 2047.3, 1743, 2047.3, 2.5, '#444'), L(1797.6, 2047.3, 1940.5, 2047.3, 2.5, '#444'),
      T('TtΔndp1', 1661.6, 2082.6, 29, { w: 115 }), T('TtΔndp2', 1872.7, 2082.6, 29, { w: 115 }),
    ],
  },
];

/* ---------- React ---------- */
function ChartCanvas({ box, build }: { box: { l: number; t: number; r: number; b: number }; build: () => any }) {
  const ref = useRef<HTMLCanvasElement>(null);
  useEffect(() => {
    const chart = new Chart(ref.current!, build());
    return () => chart.destroy();
  }, []);
  return (
    <canvas
      ref={ref}
      width={box.r - box.l}
      height={box.b - box.t}
      style={{ position: 'absolute', left: box.l, top: box.t, width: box.r - box.l, height: box.b - box.t }}
    />
  );
}

function Label({ x, y, size, rot = 0, bold = false, color = '#111', children }: any) {
  return (
    <div style={{
      position: 'absolute', left: x, top: y, transform: `translate(-50%,-50%) rotate(${rot}deg)`,
      fontFamily: FONT, fontSize: size, fontWeight: bold ? 'bold' : 'normal', color, whiteSpace: 'nowrap', lineHeight: 1,
    }}>{children}</div>
  );
}

export default function App() {
  return (
    <div style={{ position: 'absolute', left: 0, top: 0, width: 1973, height: 2100, background: '#fff', overflow: 'hidden' }}>
      <ChartCanvas box={{ l: 0, t: 0, r: 1090, b: 660 }} build={volcanoConfig} />
      {proteinSpecs().map((p, i) => (
        <ChartCanvas key={i} box={{ l: 1100, t: p.area.t - 48, r: 1973, b: p.area.b + 22 }} build={() => proteinConfig(p)} />
      ))}
      {micrographs.map((m, i) => (
        <ChartCanvas key={i} box={{ l: m.l, t: m.t, r: m.l + m.w, b: m.t + m.h }} build={() => micrographConfig(m)} />
      ))}
      {barSpecs().map((s, i) => (
        <ChartCanvas key={i} box={s.box} build={() => barConfig(s)} />
      ))}
      <Label x={13} y={12} size={40} bold>a</Label>
      <Label x={13} y={734} size={40} bold>b</Label>
      <Label x={817} y={746} size={40} bold>c</Label>
      <Label x={13} y={1587} size={40} bold>d</Label>
      <Label x={676} y={1590} size={40} bold>e</Label>
      <Label x={1335} y={1587} size={40} bold>f</Label>
      <div style={{ position: 'absolute', left: 191, top: 731, fontFamily: FONT, fontSize: 31, whiteSpace: 'nowrap', lineHeight: 1.05 }}>
        <span style={{ color: '#e8141c' }}>αARO</span>/<span style={{ color: '#22b432' }}>αHA</span>/<span style={{ color: '#2f55a4' }}>DAPI</span>
      </div>
      <Label x={609} y={747} size={31.5}>Merge/DIC</Label>
      <Label x={62} y={906} size={31} rot={-90}>TgNdP1_HA<sub style={{ fontSize: 19 }}>3</sub></Label>
      <Label x={100} y={906} size={31} rot={-90}>(TGGT1_222660)</Label>
      <Label x={68} y={1256} size={31} rot={-90}>TgNdP2_HA<sub style={{ fontSize: 19 }}>3</sub></Label>
      <Label x={106} y={1256} size={31} rot={-90}>(TGGT1_316730)</Label>
    </div>
  );
}
